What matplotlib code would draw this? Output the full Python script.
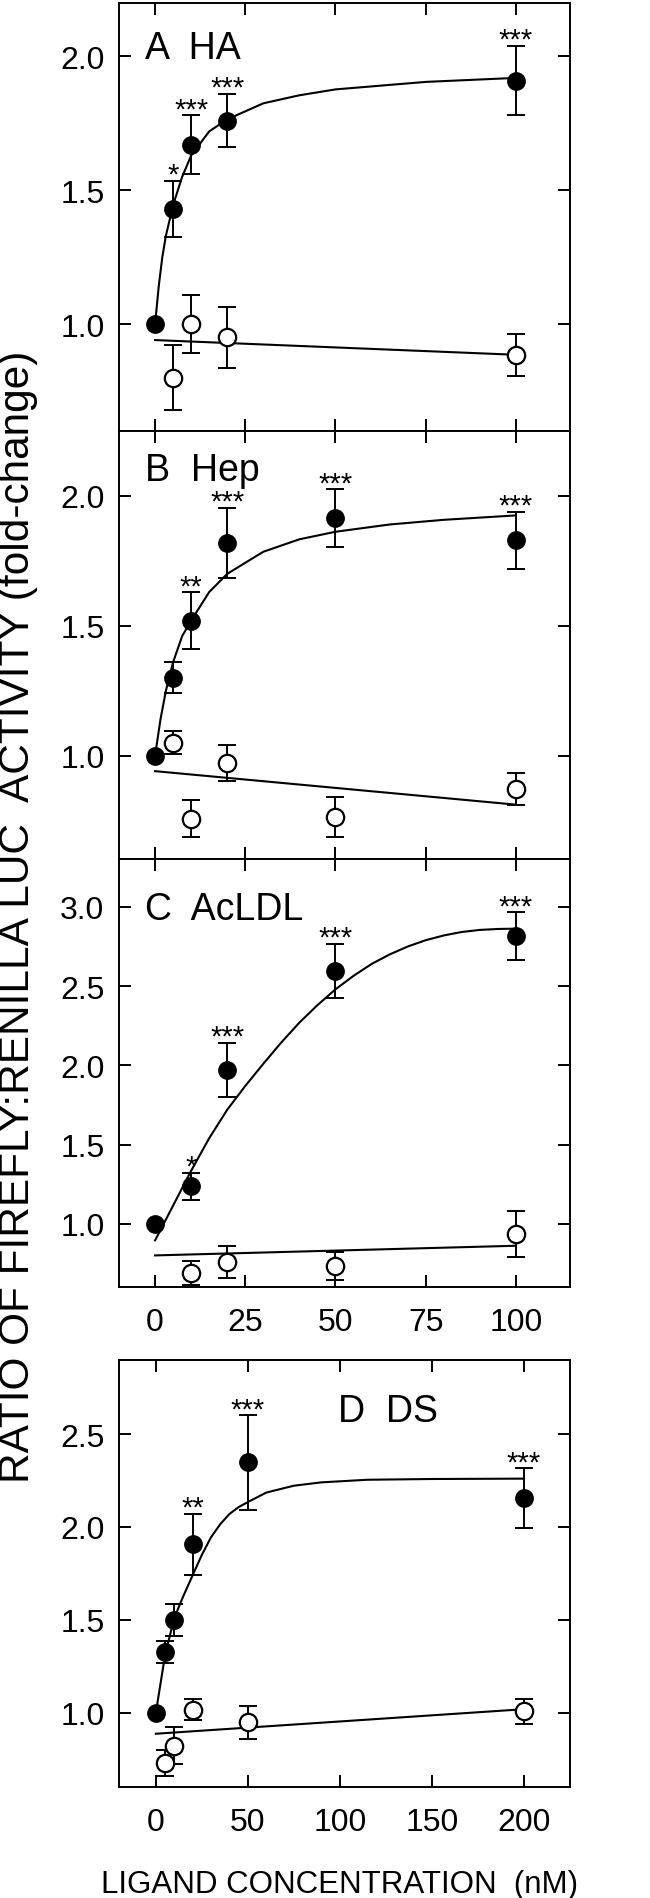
import matplotlib
matplotlib.use("Agg")
import matplotlib.pyplot as plt

plt.rcParams['font.family'] = ['Liberation Sans', 'DejaVu Sans']

# ── panel A: HA ──
A_x = [0, 5, 10, 20, 100]
A_filled = [1.00, 1.43, 1.67, 1.76, 1.91]
A_filled_err = [0, 0.105, 0.11, 0.10, 0.13]
A_stars = ["", "*", "***", "***", "***"]
A_open_x = [5, 10, 20, 100]
A_open = [0.80, 1.00, 0.95, 0.885]
A_open_err = [0.12, 0.11, 0.115, 0.078]
A_line_x = [0, 100]
A_line_y = [0.94, 0.885]
A_fit_x = [0, 1, 2, 3, 5, 7.5, 10, 15, 20, 30, 40, 50, 75, 100]
A_fit_y = [1.0, 1.14, 1.25, 1.33, 1.445, 1.55, 1.63, 1.72, 1.765, 1.825, 1.855, 1.877, 1.905, 1.92]

# ── panel B: Hep ──
B_x = [0, 5, 10, 20, 50, 100]
B_filled = [1.00, 1.30, 1.52, 1.82, 1.915, 1.83]
B_filled_err = [0, 0.06, 0.11, 0.135, 0.11, 0.11]
B_stars = ["", "", "**", "***", "***", "***"]
B_open_x = [5, 10, 20, 50, 100]
B_open = [1.05, 0.757, 0.972, 0.764, 0.871]
B_open_err = [0.045, 0.07, 0.068, 0.077, 0.061]
B_line_x = [0, 100]
B_line_y = [0.94, 0.811]
B_fit_x = [0, 1.5, 3, 5, 7.5, 10, 15, 20, 30, 40, 50, 65, 80, 100]
B_fit_y = [1.0, 1.14, 1.25, 1.36, 1.46, 1.52, 1.63, 1.70, 1.785, 1.833, 1.862, 1.89, 1.908, 1.925]

# ── panel C: AcLDL ──
C_x = [0, 10, 20, 50, 100]
C_filled = [1.00, 1.238, 1.973, 2.598, 2.815]
C_filled_err = [0, 0.085, 0.17, 0.17, 0.15]
C_stars = ["", "*", "***", "***", "***"]
C_open_x = [10, 20, 50, 100]
C_open = [0.69, 0.758, 0.732, 0.937]
C_open_err = [0.075, 0.10, 0.09, 0.145]
C_line_x = [0, 100]
C_line_y = [0.80, 0.861]
C_fit_x = [0, 5, 10, 15, 20, 25, 30, 35, 40, 45, 50, 55, 60, 65, 70, 75, 80, 85, 90, 95, 100]
C_fit_y = [0.895, 1.115, 1.335, 1.54, 1.72, 1.87, 2.01, 2.145, 2.27, 2.38, 2.48, 2.565,
           2.64, 2.70, 2.75, 2.79, 2.82, 2.842, 2.855, 2.861, 2.863]

# ── panel D: DS ──
D_x = [0, 5, 10, 20, 50, 200]
D_filled = [1.00, 1.328, 1.50, 1.907, 2.347, 2.157]
D_filled_err = [0, 0.06, 0.085, 0.163, 0.255, 0.16]
D_stars = ["", "", "", "**", "***", "***"]
D_open_x = [5, 10, 20, 50, 200]
D_open = [0.729, 0.824, 1.018, 0.95, 1.009]
D_open_err = [0.07, 0.098, 0.055, 0.088, 0.067]
D_line_x = [0, 200]
D_line_y = [0.888, 1.02]
D_fit_x = [0, 5, 10, 15, 20, 25, 30, 35, 40, 45, 50, 60, 75, 90, 115, 150, 200]
D_fit_y = [1.0, 1.31, 1.51, 1.63, 1.74, 1.85, 1.945, 2.015, 2.07, 2.107, 2.134, 2.185,
           2.222, 2.24, 2.254, 2.258, 2.26]

TICK_FS = 23
LW = 1.4


def draw(ax, x, y, err, stars, ox, oy, oerr, lx, ly, fx, fy):
    ax.plot(fx, fy, color="black", lw=1.5, zorder=3)
    ax.plot(lx, ly, color="black", lw=1.5, zorder=3)
    ex = [a for a, e in zip(x, err) if e > 0]
    ey = [b for b, e in zip(y, err) if e > 0]
    ee = [e for e in err if e > 0]
    ax.errorbar(ex, ey, yerr=ee, fmt="none", ecolor="black", elinewidth=LW,
                capsize=6.8, capthick=LW, zorder=2)
    ax.errorbar(ox, oy, yerr=oerr, fmt="none", ecolor="black", elinewidth=LW,
                capsize=6.8, capthick=LW, zorder=2)
    ax.plot(x, y, "o", ms=12.5, mfc="black", mec="black", zorder=4)
    ax.plot(ox, oy, "o", ms=12.5, mfc="white", mec="black", mew=1.6, zorder=4)
    for xi, yi, e, s in zip(x, y, err, stars):
        if s:
            ax.annotate(s, (xi, yi + e), xytext=(0, -1.5), textcoords="offset points",
                        ha="center", va="baseline", fontsize=21)
    ax.tick_params(direction="in", length=8.5, width=LW, top=True, right=True,
                   labelsize=TICK_FS)
    ax.tick_params(axis="y", pad=10.5)
    ax.tick_params(axis="x", pad=14)
    for sp in ax.spines.values():
        sp.set_linewidth(LW)


fig = plt.figure(figsize=(6.5, 18.99), dpi=100)
L, W = 0.1831, 0.6938
axA = fig.add_axes([L, 0.7725, W, 0.2254])
axB = fig.add_axes([L, 0.5469, W, 0.2256])
axC = fig.add_axes([L, 0.3217, W, 0.2252])
axD = fig.add_axes([L, 0.0583, W, 0.2252])

draw(axA, A_x, A_filled, A_filled_err, A_stars, A_open_x, A_open, A_open_err,
     A_line_x, A_line_y, A_fit_x, A_fit_y)
draw(axB, B_x, B_filled, B_filled_err, B_stars, B_open_x, B_open, B_open_err,
     B_line_x, B_line_y, B_fit_x, B_fit_y)
draw(axC, C_x, C_filled, C_filled_err, C_stars, C_open_x, C_open, C_open_err,
     C_line_x, C_line_y, C_fit_x, C_fit_y)
draw(axD, D_x, D_filled, D_filled_err, D_stars, D_open_x, D_open, D_open_err,
     D_line_x, D_line_y, D_fit_x, D_fit_y)

for ax, lo, hi, yt in [(axA, 0.6, 2.2, [1.0, 1.5, 2.0]),
                       (axB, 0.6, 2.25, [1.0, 1.5, 2.0]),
                       (axC, 0.6, 3.3, [1.0, 1.5, 2.0, 2.5, 3.0])]:
    ax.set_xlim(-10, 115); ax.set_ylim(lo, hi)
    ax.set_xticks([0, 25, 50, 75, 100]); ax.set_yticks(yt)
    ax.set_yticklabels([f"{v:.1f}" for v in yt])
axA.set_xticklabels([]); axB.set_xticklabels([])
axD.set_xlim(-20, 225); axD.set_ylim(0.6, 2.9)
axD.set_xticks([0, 50, 100, 150, 200]); axD.set_yticks([1.0, 1.5, 2.0, 2.5])
axD.set_yticklabels(["1.0", "1.5", "2.0", "2.5"])

axA.text(0.057, 0.871, "A  HA", transform=axA.transAxes, fontsize=27, va="baseline")
axB.text(0.057, 0.885, "B  Hep", transform=axB.transAxes, fontsize=27, va="baseline")
axC.text(0.057, 0.861, "C  AcLDL", transform=axC.transAxes, fontsize=27, va="baseline")
axD.text(0.486, 0.857, "D  DS", transform=axD.transAxes, fontsize=27, va="baseline")

fig.text(0.028, 1 - 917 / 1899, "RATIO OF FIREFLY:RENILLA LUC  ACTIVITY (fold-change)",
         rotation=90, ha="center", va="center", fontsize=30.5)
fig.text(0.523, 6 / 1899, "LIGAND CONCENTRATION  (nM)", ha="center", va="baseline",
         fontsize=22.5)

fig.savefig("out.png", dpi=100)
